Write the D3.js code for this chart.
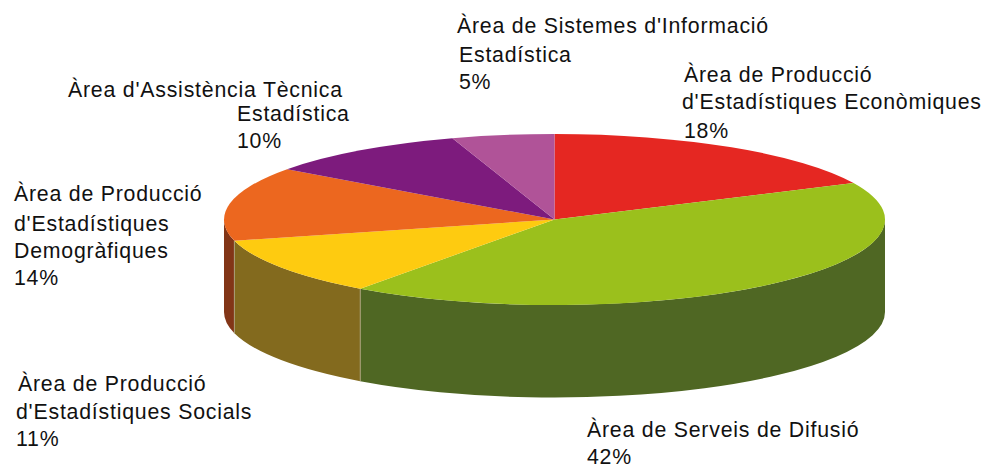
<!DOCTYPE html>
<html><head><meta charset="utf-8">
<script src="https://cdn.jsdelivr.net/npm/d3@7"></script>
<style>html,body{margin:0;padding:0;background:#fff}svg{display:block}text{font-family:"Liberation Sans",Arial,sans-serif;font-size:21.3px;letter-spacing:.78px;fill:#111}</style>
</head><body><svg id="c" width="983" height="466"></svg>
<script>
const categories = ["Àrea de Producció d'Estadístiques Econòmiques","Àrea de Serveis de Difusió","Àrea de Producció d'Estadístiques Socials","Àrea de Producció d'Estadístiques Demogràfiques","Àrea d'Assistència Tècnica Estadística","Àrea de Sistemes d'Informació Estadística"];
const values = [18,42,11,14,10,5];
const topColors = ["#e52722","#9bc01c","#fecb10","#ec671f","#7d1b7d","#b05398"];
const sideColors = ["#8a1714","#4f6723","#836a1e","#823517","#4b104b","#6a325b"];
const labelLines = [
  ["Àrea de Producció","d'Estadístiques Econòmiques","18%"],
  ["Àrea de Serveis de Difusió","42%"],
  ["Àrea de Producció","d'Estadístiques Socials","11%"],
  ["Àrea de Producció","d'Estadístiques","Demogràfiques","14%"],
  ["Àrea d'Assistència Tècnica","Estadística","10%"],
  ["Àrea de Sistemes d'Informació","Estadística","5%"]
];
const labelX = [[684,682,684],[587,587],[18,16,16],[14,14,14,14],[68,237,237],[457,459,459]];
const labelY = [[82,109,138],[437,464],[391,419,446],[201,231,258,285],[97,121,148],[33,62,89]];

const svg = d3.select("#c");
const cx=554.5, cy=219.5, rx=330.5, ry=85.5, depth=92.5;
const arcs = d3.pie().sort(null).value(d=>d)(values);
const px = a => cx + rx*Math.sin(a), py = a => cy - ry*Math.cos(a);

// side walls: front half of the rim only
const lo=Math.PI/2, hi=Math.PI*1.5;
arcs.forEach((d,i)=>{
  const a0=Math.max(d.startAngle,lo), a1=Math.min(d.endAngle,hi);
  if(a1<=a0) return;
  const large=(a1-a0)>Math.PI?1:0;
  svg.append("path")
    .attr("d",`M${px(a0)},${py(a0)}A${rx},${ry} 0 ${large} 1 ${px(a1)},${py(a1)}L${px(a1)},${py(a1)+depth}A${rx},${ry} 0 ${large} 0 ${px(a0)},${py(a0)+depth}Z`)
    .attr("fill",sideColors[i]);
});
// seams between side walls
arcs.forEach(d=>{
  const a=d.endAngle;
  if(a>lo && a<hi) svg.append("line").attr("x1",px(a)).attr("x2",px(a)).attr("y1",py(a)).attr("y2",py(a)+depth).attr("stroke","#a89f78").attr("stroke-width",1);
});
// top face
const arc=d3.arc().innerRadius(0).outerRadius(rx);
const g=svg.append("g").attr("transform",`translate(${cx},${cy}) scale(1,${ry/rx})`);
g.selectAll("path").data(arcs).join("path").attr("d",arc).attr("fill",(d,i)=>topColors[i]);

// labels
labelLines.forEach((lines,i)=>{
  lines.forEach((t,j)=>{
    svg.append("text").attr("x",labelX[i][j]).attr("y",labelY[i][j]).text(t);
  });
});
</script></body></html>
